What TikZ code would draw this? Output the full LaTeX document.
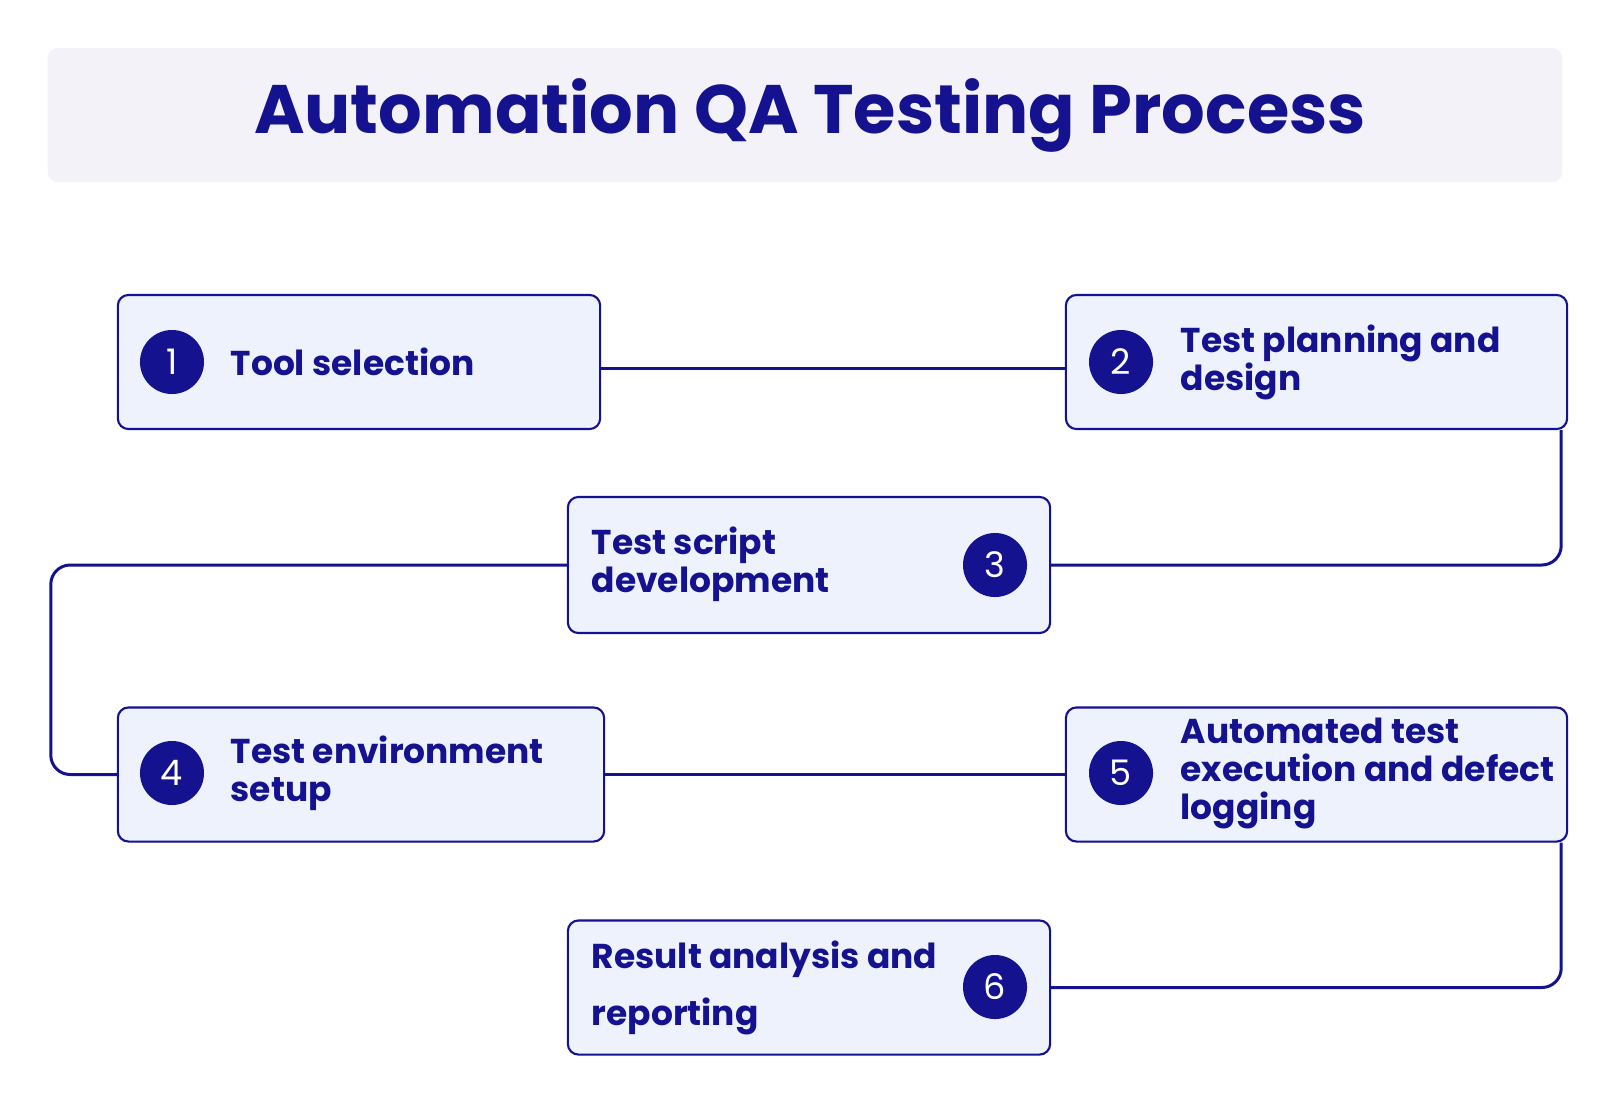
\documentclass[tikz,border=0pt]{standalone}
\usepackage{fontspec}
\setmainfont{Poppins}
\usetikzlibrary{positioning, calc}
\definecolor{navy}{HTML}{14128E}
\definecolor{boxfill}{HTML}{EEF2FD}
\definecolor{titlefill}{HTML}{F3F2F8}

\begin{document}
\begin{tikzpicture}[
  x=0.01cm, y=-0.01cm,
  stage/.style={draw=navy, fill=boxfill, rounded corners=3pt, line width=0.6pt,
    minimum height=1.34cm, inner sep=0pt},
  num/.style={circle, fill=navy, text=white, minimum size=0.64cm, inner sep=0pt,
    font=\fontsize{10}{12}\selectfont},
  steplabel/.style={anchor=west, align=left, text=navy, inner sep=0pt,
    font=\fontsize{9.8}{10.8}\selectfont\bfseries},
  link/.style={draw=navy, line width=0.85pt, rounded corners=5.5pt}
]
\useasboundingbox (0,0) rectangle (1610,1100);

% Title
\node[fill=titlefill, rounded corners=3pt, minimum width=15.14cm, minimum height=1.34cm]
  (title) at (805,115) {};
\node[text=navy, font=\fontsize{19.5}{23}\selectfont\bfseries] (titletext) at (810,115)
  {Automation QA Testing Process};

% Boxes
\node[stage, minimum width=4.82cm] (b1) at (359,362) {};
\node[stage, minimum width=5.01cm] (b2) at (1316.5,362) {};
\node[stage, minimum width=4.82cm, minimum height=1.36cm] (b3) at (809,565) {};
\node[stage, minimum width=4.86cm] (b4) at (361,774.5) {};
\node[stage, minimum width=5.01cm] (b5) at (1316.5,774.5) {};
\node[stage, minimum width=4.82cm] (b6) at (809,987.5) {};

% Numbers
\node[num] (n1) at (172,362) {1};
\node[num] (n2) at (1121,362) {2};
\node[num] (n3) at (995,565) {3};
\node[num] (n4) at (172,773) {4};
\node[num] (n5) at (1121,773) {5};
\node[num] (n6) at (995,987) {6};

% Labels
\node[steplabel] (t1) at (230,362) {Tool selection};
\node[steplabel] (t2) at (1180,362) {Test planning and\\design};
\node[steplabel] (t3) at (591,564) {Test script\\development};
\node[steplabel] (t4) at (230,773) {Test environment\\setup};
\node[steplabel] (t5) at (1180,773) {Automated test\\execution and defect\\logging};
\node[steplabel, font=\fontsize{9.8}{16}\selectfont\bfseries] (t6) at (591,988)
  {Result analysis and\\reporting};

% Connectors
\draw[link] (b1.east |- 0,368) -- (b2.west |- 0,368);
\draw[link] ($(b2.south east)+(-7,0)$) |- (b3.east);
\draw[link] (b3.west) -- ++(-516,0) |- (b4.west);
\draw[link] (b4.east) -- (b5.west);
\draw[link] ($(b5.south east)+(-7,0)$) |- (b6.east);
\end{tikzpicture}
\end{document}
